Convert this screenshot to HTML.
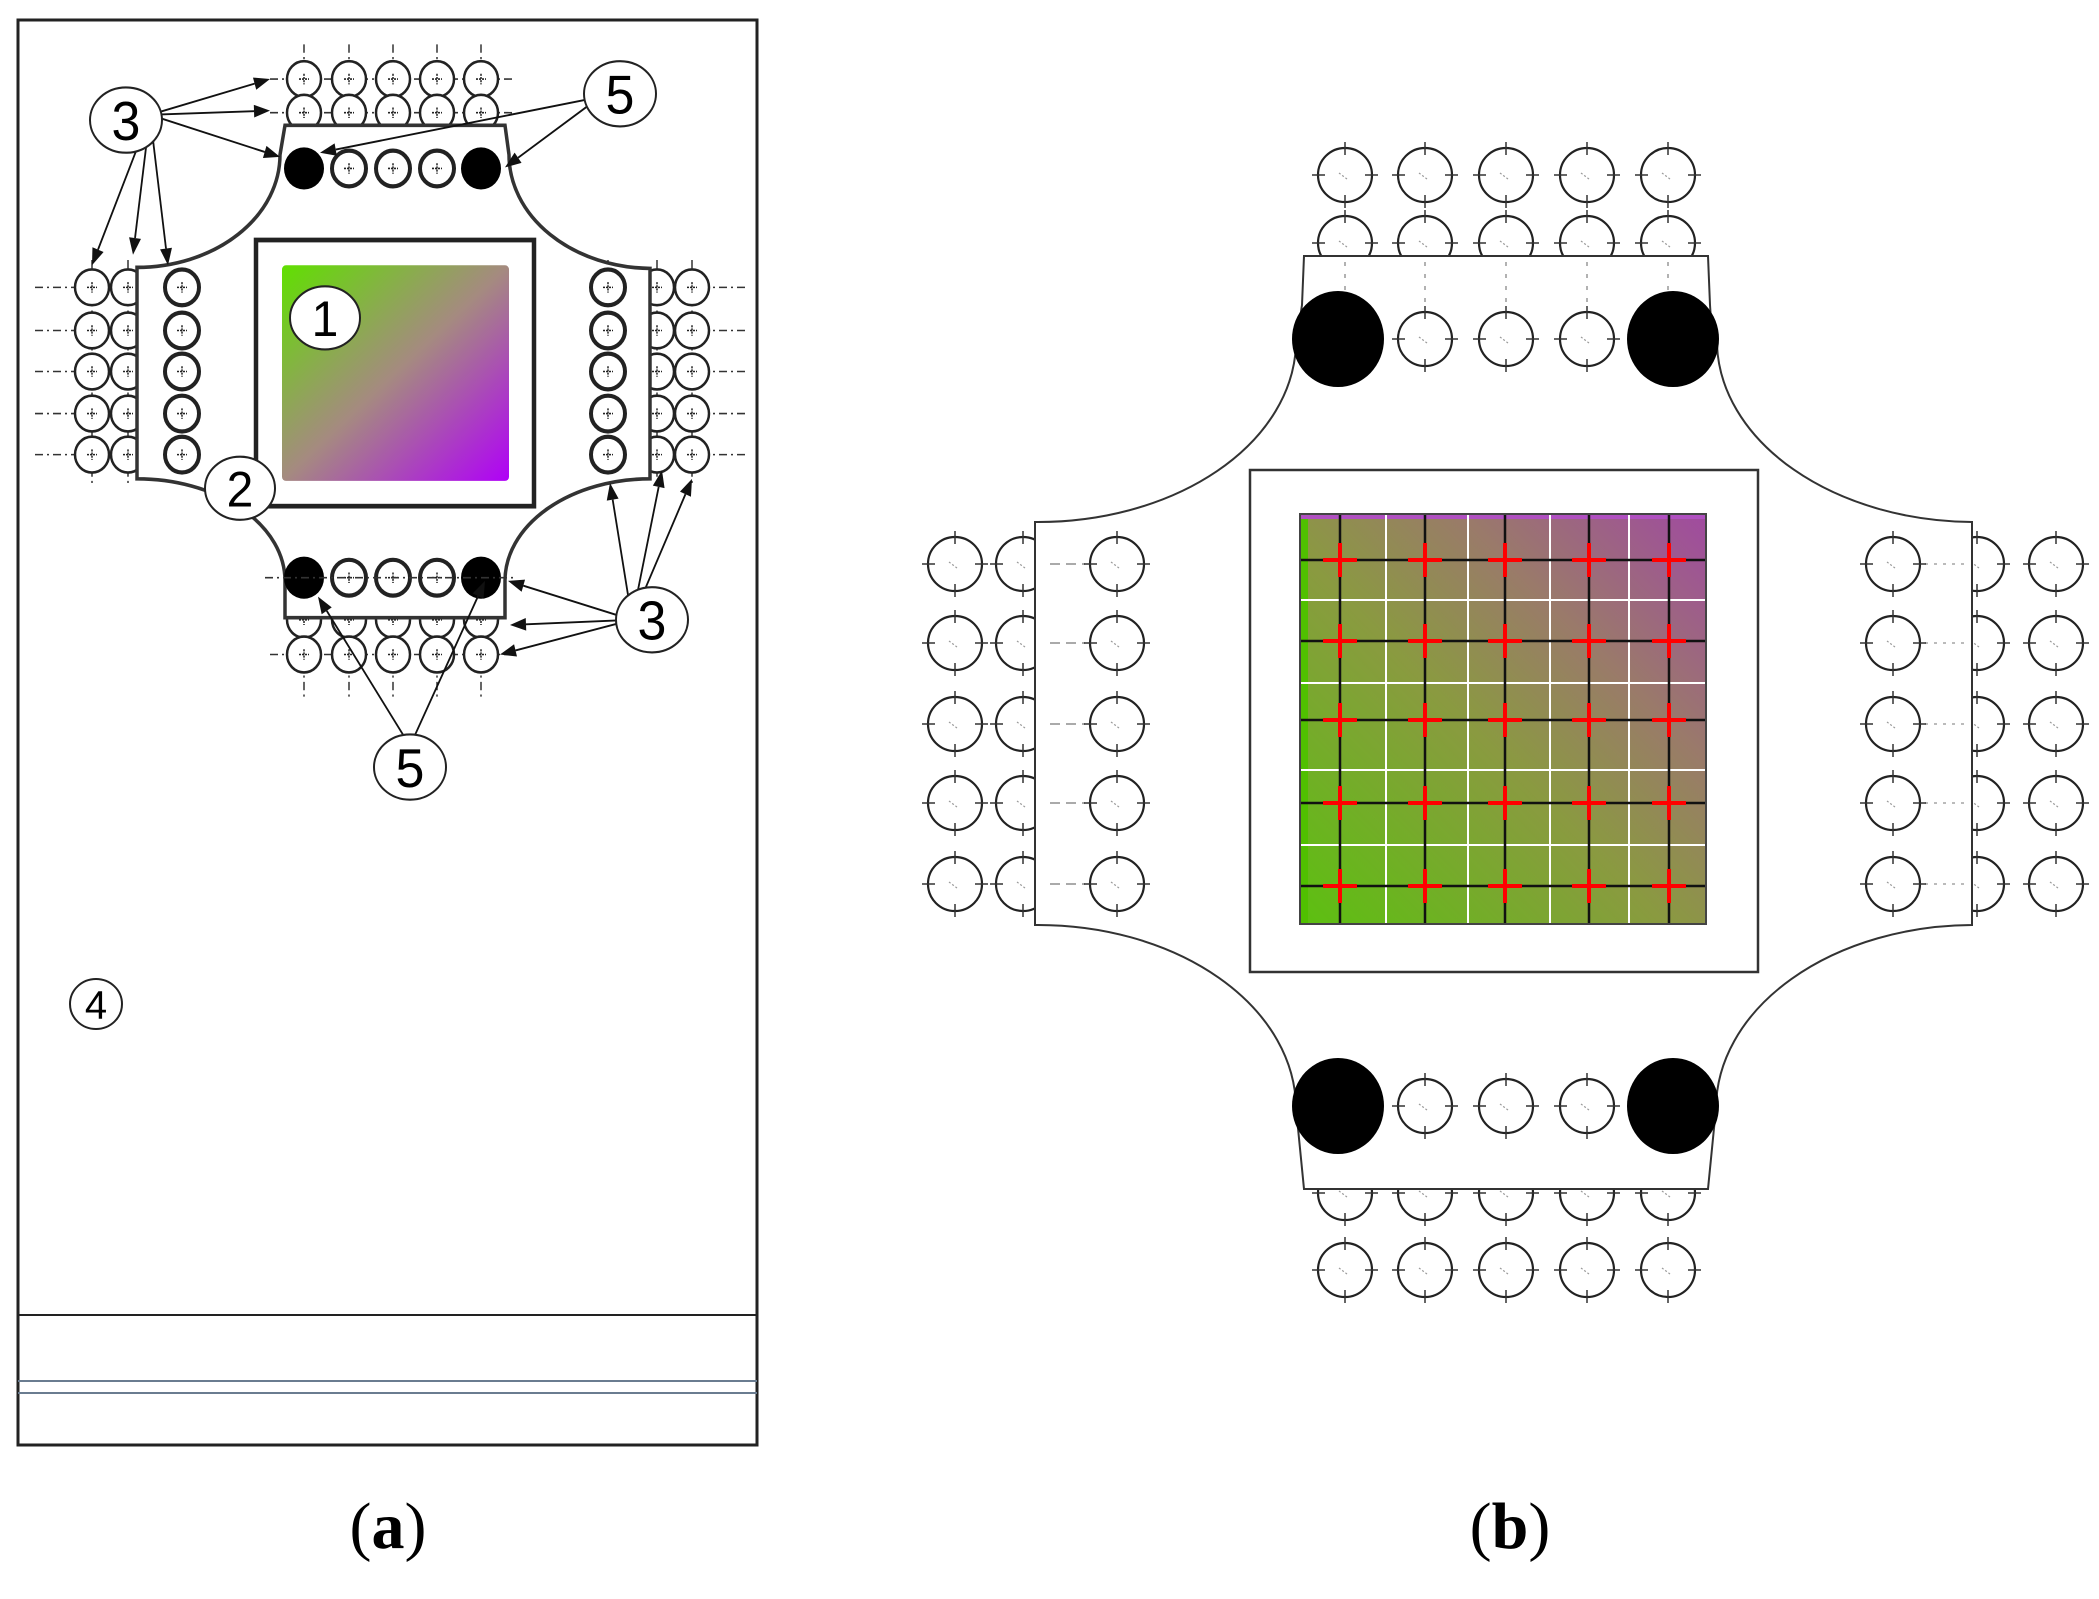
<!DOCTYPE html>
<html><head><meta charset="utf-8"><style>
html,body{margin:0;padding:0;background:#fff;}
svg{display:block;}
text{font-family:"Liberation Sans",sans-serif;}
</style></head><body>
<svg id="s" width="2099" height="1599" viewBox="0 0 2099 1599" xmlns="http://www.w3.org/2000/svg">
<defs>
<linearGradient id="ga" x1="0" y1="0" x2="1" y2="1">
<stop offset="0" stop-color="#60e000"/><stop offset="0.5" stop-color="#a58a80"/><stop offset="1" stop-color="#b000f8"/>
</linearGradient>
<linearGradient id="gb" x1="0" y1="1" x2="1" y2="0">
<stop offset="0" stop-color="#5cc010"/><stop offset="0.45" stop-color="#8a9a40"/><stop offset="0.7" stop-color="#9a7a6a"/><stop offset="1" stop-color="#a04aa0"/>
</linearGradient>
</defs>
<g id="g"></g>
<text x="388" y="1548" font-size="66" text-anchor="middle" style="font-family:'Liberation Serif',serif">(<tspan font-weight="bold">a</tspan>)</text>
<text x="1510" y="1548" font-size="66" text-anchor="middle" style="font-family:'Liberation Serif',serif">(<tspan font-weight="bold">b</tspan>)</text>
</svg>
<script>
var g=document.getElementById('g'),h='';
function add(s){h+=s;}
// ---------- panel a ----------
add('<rect x="18" y="20" width="739" height="1425" fill="none" stroke="#222" stroke-width="3"/>');
add('<line x1="18" y1="1315" x2="757" y2="1315" stroke="#222" stroke-width="2"/>');
add('<line x1="18" y1="1381" x2="757" y2="1381" stroke="#6a7c90" stroke-width="2"/>');
add('<line x1="18" y1="1393" x2="757" y2="1393" stroke="#6a7c90" stroke-width="2"/>');
add('<g transform="matrix(1,0,0,1.052,0,-3)">');
var dd='stroke="#333" stroke-width="1.5" stroke-dasharray="8,4,2,4"';
function ca(x,y,w){add('<circle cx="'+x+'" cy="'+y+'" r="17" fill="#fff" stroke="#222" stroke-width="'+(w||2.5)+'"/><line x1="'+(x-5)+'" y1="'+y+'" x2="'+(x+5)+'" y2="'+y+'" stroke="#222" stroke-width="1.5" stroke-dasharray="2,1"/><line x1="'+x+'" y1="'+(y-5)+'" x2="'+x+'" y2="'+(y+5)+'" stroke="#222" stroke-width="1.5" stroke-dasharray="2,1"/>');}
var tx=[304,349,393,437,481];
tx.forEach(function(x){add('<line x1="'+x+'" y1="45" x2="'+x+'" y2="190" '+dd+'/><line x1="'+x+'" y1="525" x2="'+x+'" y2="665" '+dd+'/>');});
[78,110].forEach(function(y){add('<line x1="270" y1="'+y+'" x2="512" y2="'+y+'" '+dd+'/>');});
[625].forEach(function(y){add('<line x1="270" y1="'+y+'" x2="512" y2="'+y+'" '+dd+'/>');});
var ly=[276,317,356,396,435];
ly.forEach(function(y){add('<line x1="35" y1="'+y+'" x2="222" y2="'+y+'" '+dd+'/><line x1="557" y1="'+y+'" x2="748" y2="'+y+'" '+dd+'/>');});
[92,128,182].forEach(function(x){add('<line x1="'+x+'" y1="250" x2="'+x+'" y2="462" '+dd+'/>');});
[608,657,692].forEach(function(x){add('<line x1="'+x+'" y1="250" x2="'+x+'" y2="462" '+dd+'/>');});
tx.forEach(function(x){ca(x,78);ca(x,110);ca(x,592);ca(x,625);});
ly.forEach(function(y){ca(92,y);ca(128,y);ca(657,y);ca(692,y);});
add('<path d="M285,122 L505,122 L509,150 A143,108 0 0 0 650,258 L650,458 A145,97 0 0 0 505,555 L505,590 L285,590 L285,555 A148,97 0 0 0 137,458 L137,257 A143,107 0 0 0 280,150 Z" fill="#fff" stroke="#333" stroke-width="3.5"/>');
tx.forEach(function(x,i){ if(i==0||i==4){add('<ellipse cx="'+x+'" cy="163" rx="20" ry="20"/><ellipse cx="'+x+'" cy="552" rx="20" ry="20"/>');} else {ca(x,163,4);ca(x,552,4);}});
add('<line x1="265" y1="552" x2="515" y2="552" '+dd+'/>');
ly.forEach(function(y){ca(182,y,4);ca(608,y,4);});
add('<rect x="256" y="231" width="278" height="253" fill="#fff" stroke="#222" stroke-width="4.5"/>');
add('<rect x="282" y="255" width="227" height="205" rx="4" fill="url(#ga)"/>');
function arr(x1,y1,x2,y2){var dx=x2-x1,dy=y2-y1,l=Math.sqrt(dx*dx+dy*dy),ux=dx/l,uy=dy/l,L=16,W=6;
var bx=x2-ux*L,by=y2-uy*L;
add('<line x1="'+x1+'" y1="'+y1+'" x2="'+bx+'" y2="'+by+'" stroke="#111" stroke-width="1.8"/><polygon points="'+x2+','+y2+' '+(bx-uy*W)+','+(by+ux*W)+' '+(bx+uy*W)+','+(by-ux*W)+'" fill="#111"/>');}
[[270,78],[270,108],[280,152],[92,255],[133,245],[168,255]].forEach(function(p){arr(150,112,p[0],p[1]);});
[[320,148],[505,162]].forEach(function(p){arr(600,95,p[0],p[1]);});
[[508,555],[510,597],[500,625],[610,462],[662,450],[692,458]].forEach(function(p){arr(632,592,p[0],p[1]);});
[[318,570],[485,555]].forEach(function(p){arr(410,712,p[0],p[1]);});
function lab(x,y,t,rx,ry,fs){add('<ellipse cx="'+x+'" cy="'+y+'" rx="'+rx+'" ry="'+ry+'" fill="#fff" stroke="#222" stroke-width="2"/><text x="'+x+'" y="'+(y+fs*0.36)+'" font-size="'+fs+'" text-anchor="middle">'+t+'</text>');}
lab(126,117,'3',36,31,52);lab(620,92,'5',36,31,52);lab(652,592,'3',36,31,52);lab(410,732,'5',36,31,52);
lab(325,305,'1',35,30,48);lab(240,467,'2',35,30,48);
add('</g>');
lab(96,1004,'4',26,25,40);
// ---------- panel b ----------
function cb(x,y){add('<circle cx="'+x+'" cy="'+y+'" r="27" fill="#fff" stroke="#222" stroke-width="2.2"/><line x1="'+(x-33)+'" y1="'+y+'" x2="'+(x-20)+'" y2="'+y+'" stroke="#333" stroke-width="1.5"/><line x1="'+(x+20)+'" y1="'+y+'" x2="'+(x+33)+'" y2="'+y+'" stroke="#333" stroke-width="1.5"/><line x1="'+x+'" y1="'+(y-33)+'" x2="'+x+'" y2="'+(y-20)+'" stroke="#333" stroke-width="1.5"/><line x1="'+x+'" y1="'+(y+20)+'" x2="'+x+'" y2="'+(y+33)+'" stroke="#333" stroke-width="1.5"/><line x1="'+(x-6)+'" y1="'+(y-2)+'" x2="'+(x+2)+'" y2="'+(y+4)+'" stroke="#999" stroke-width="1.2" stroke-dasharray="2,2"/>');}
var bx=[1345,1425,1506,1587,1668];
bx.forEach(function(x){cb(x,175);cb(x,243);cb(x,1193);cb(x,1270);});
var by=[564,643,724,803,884];
by.forEach(function(y){cb(955,y);cb(1023,y);cb(1977,y);cb(2056,y);});
add('<path d="M1304,256 L1708,256 L1710,305 Q1712,339 1717,345 A258,182 0 0 0 1972,522 L1972,925 A258,184 0 0 0 1716,1108 L1708,1189 L1304,1189 L1296,1108 A258,184 0 0 0 1035,925 L1035,522 A258,182 0 0 0 1296,345 L1302,305 Z" fill="#fff" stroke="#333" stroke-width="2"/>');
by.forEach(function(y){add('<line x1="1050" y1="'+y+'" x2="1085" y2="'+y+'" stroke="#aaa" stroke-width="2" stroke-dasharray="10,6"/><line x1="1925" y1="'+y+'" x2="1965" y2="'+y+'" stroke="#bbb" stroke-width="2" stroke-dasharray="3,6"/>');cb(1117,y);cb(1893,y);});
bx.forEach(function(x,i){add('<line x1="'+x+'" y1="262" x2="'+x+'" y2="305" stroke="#999" stroke-width="1.5" stroke-dasharray="4,8"/>');
 if(i==0||i==4){add('<ellipse cx="'+(i==0?1338:1673)+'" cy="339" rx="46" ry="48"/><ellipse cx="'+(i==0?1338:1673)+'" cy="1106" rx="46" ry="48"/>');} else {cb(x,339);cb(x,1106);}});
add('<rect x="1250" y="470" width="508" height="502" fill="#fff" stroke="#333" stroke-width="2.5"/>');
add('<rect x="1300" y="514" width="406" height="410" fill="url(#gb)"/>');
add('<rect x="1300" y="514" width="8" height="410" fill="#50c000"/><rect x="1300" y="514" width="406" height="5" fill="#b050c0"/>');
[1386,1468,1550,1629].forEach(function(x){add('<line x1="'+x+'" y1="514" x2="'+x+'" y2="924" stroke="#fff" stroke-width="2"/>');});
[600,683,770,845].forEach(function(y){add('<line x1="1300" y1="'+y+'" x2="1706" y2="'+y+'" stroke="#fff" stroke-width="2"/>');});
var gx=[1340,1425,1505,1589,1669],gy=[560,641,720,803,886];
gx.forEach(function(x){add('<line x1="'+x+'" y1="514" x2="'+x+'" y2="924" stroke="#111" stroke-width="2.5"/>');});
gy.forEach(function(y){add('<line x1="1300" y1="'+y+'" x2="1706" y2="'+y+'" stroke="#111" stroke-width="2.5"/>');});
add('<rect x="1300" y="514" width="406" height="410" fill="none" stroke="#444" stroke-width="2"/>');
gx.forEach(function(x){gy.forEach(function(y){add('<line x1="'+(x-17)+'" y1="'+y+'" x2="'+(x+17)+'" y2="'+y+'" stroke="#f00" stroke-width="4"/><line x1="'+x+'" y1="'+(y-17)+'" x2="'+x+'" y2="'+(y+17)+'" stroke="#f00" stroke-width="4"/>');});});
g.innerHTML=h;
</script>
</body></html>
